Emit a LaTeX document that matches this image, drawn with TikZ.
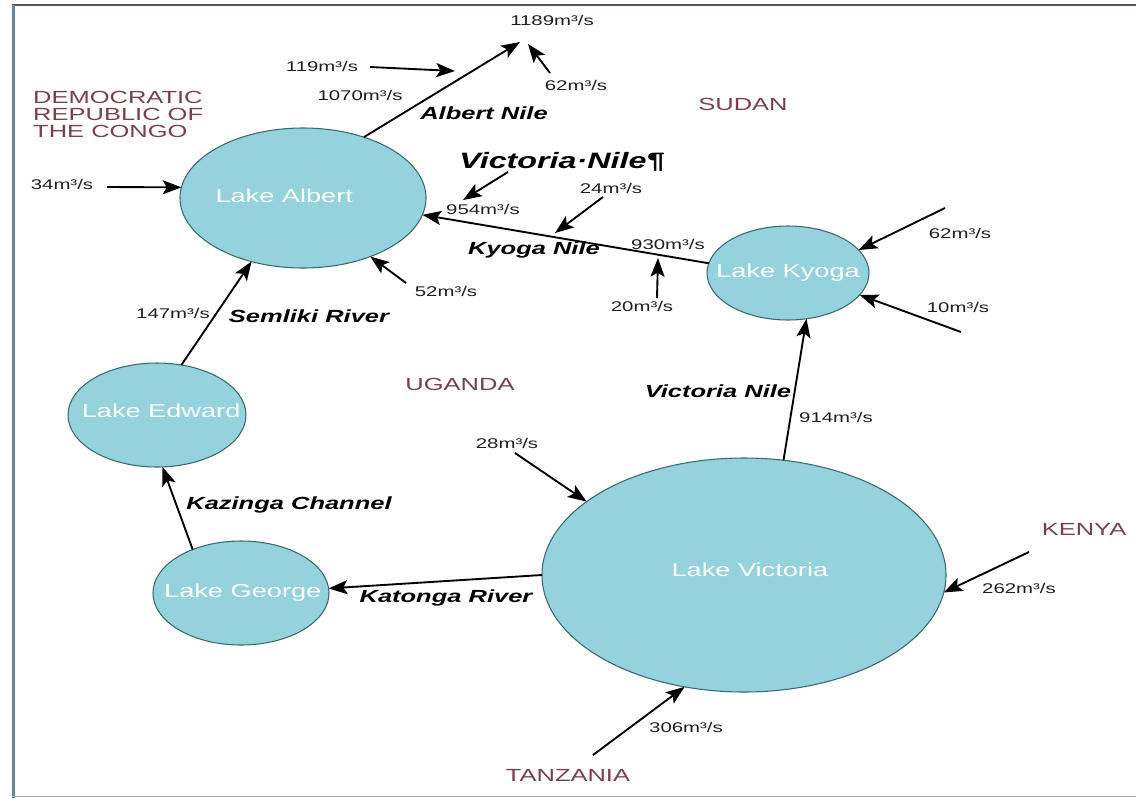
\documentclass[tikz,border=0pt]{standalone}
\usepackage{fontspec}
\setmainfont{Liberation Sans}[FakeStretch=1.45]
\usetikzlibrary{shapes.geometric,arrows.meta}

\definecolor{lakeBlue}{RGB}{148,210,222}
\definecolor{lakeEdge}{RGB}{58,104,110}
\definecolor{countryRed}{RGB}{122,64,74}
\definecolor{frameBlue}{RGB}{104,132,164}
\definecolor{frameDark}{RGB}{80,86,102}

% lake name: horizontal kern, raise, text
\newcommand{\lakename}[3]{\makebox[0pt]{\kern#1\raisebox{#2}{#3}}}

\tikzset{
  lake/.style={ellipse, draw=lakeEdge, line width=0.9pt, fill=lakeBlue, text=white,
    inner sep=0pt, outer sep=0pt, font=\fontsize{16}{18}\selectfont},
  flow/.style={rectangle, draw=none, inner sep=0pt, text=black!88, font=\fontsize{12}{14}\selectfont},
  river/.style={rectangle, draw=none, inner sep=0pt, font=\fontsize{15}{17}\selectfont\bfseries\itshape},
  country/.style={rectangle, draw=none, inner sep=0pt, text=countryRed, font=\fontsize{15}{14.5}\selectfont},
  stream/.style={->, line width=1.6pt}
}

\begin{document}
\begin{tikzpicture}[x=0.03cm, y=-0.03cm, >={Stealth[length=16pt,width=12pt,inset=3.5pt]}]
\useasboundingbox (0,0) rectangle (1136,798);
% \draw[help lines, step=50] (0,0) grid (1136,798);
%%%%%%%%%%%%%%%%%%%%%%%%%%%%%%% frame
\draw[frameDark, line width=1.7pt] (12,5) -- (1136,5);
\draw[frameBlue, line width=2.5pt] (13.5,5) -- (13.5,798);
\draw[frameBlue!70, line width=1.5pt] (12,796.5) -- (1136,796.5);

%%%%%%%%%%%%%%%%%%%%%%%%%%%%%%% lakes
\node[lake, minimum width=7.38cm, minimum height=4.2cm](lAlbert) at (303,198){\lakename{-32pt}{4pt}{Lake Albert}};
\node[lake, minimum width=4.86cm, minimum height=2.82cm](lKyoga) at (788,273){\lakename{0pt}{0pt}{Lake Kyoga}};
\node[lake, minimum width=5.34cm, minimum height=3.12cm](lEdward) at (157,415){\lakename{7pt}{7pt}{Lake Edward}};
\node[lake, minimum width=5.28cm, minimum height=3.12cm](lGeorge) at (241,593){\lakename{3pt}{2.5pt}{Lake George}};
\node[lake, minimum width=12.12cm, minimum height=7.02cm](lVictoria) at (744,575){\lakename{10pt}{9pt}{Lake Victoria}};

%%%%%%%%%%%%%%%%%%%%%%%%%%%%%%% countries
\node[country, align=left, anchor=west](cCongo) at (33,114){DEMOCRATIC\\REPUBLIC OF\\THE CONGO};
\node[country](cSudan) at (743,104){SUDAN};
\node[country](cUganda) at (460,384){UGANDA};
\node[country](cKenya) at (1084,529){KENYA};
\node[country](cTanzania) at (568,775){TANZANIA};

%%%%%%%%%%%%%%%%%%%%%%%%%%%%%%% Albert Nile
\coordinate (nileOut) at (520,42);
\draw[stream] (lAlbert.45) -- (nileOut);
\node[flow](fOut) at (552,20){1189m³/s};
\node[flow](fAlbert) at (360,95){1070m³/s};
\node[river](rAlbertNile) at (484,113){Albert Nile};

\coordinate (in119) at (370,67);
\coordinate (to119) at (455,71);
\draw[stream] (in119) -- (to119);
\node[flow](f119) at (322,66){119m³/s};

\coordinate (in62a) at (550,73);
\coordinate (to62a) at (528,44);
\draw[stream] (in62a) -- (to62a);
\node[flow](f62a) at (576,85){62m³/s};

%%%%%%%%%%%%%%%%%%%%%%%%%%%%%%% Lake Albert inflows
\coordinate (in34) at (107,187);
\draw[stream] (in34) -- (lAlbert.175);
\node[flow](f34) at (62,184){34m³/s};

\coordinate (in52) at (406,283);
\draw[stream] (in52) -- (lAlbert.-41);
\node[flow](f52) at (446,291){52m³/s};

\coordinate (in954) at (508,172);
\coordinate (to954) at (463,200);
\draw[stream] (in954) -- (to954);
\node[river, font=\fontsize{19}{21}\selectfont\bfseries\itshape](rVicNileTop) at (562,162){Victoria·Nile¶};
\node[flow](f954) at (483,209){954m³/s};

%%%%%%%%%%%%%%%%%%%%%%%%%%%%%%% Kyoga Nile
\draw[stream] (lKyoga.173) -- (lAlbert.-8);
\node[river](rKyogaNile) at (534,250){Kyoga Nile};
\node[flow](f930) at (668,244){930m³/s};

\coordinate (in24) at (603,197);
\coordinate (to24) at (555,233);
\draw[stream] (in24) -- (to24);
\node[flow](f24) at (611,188){24m³/s};

\coordinate (in20) at (657,298);
\coordinate (to20) at (658,258);
\draw[stream] (in20) -- (to20);
\node[flow](f20) at (642,306){20m³/s};

%%%%%%%%%%%%%%%%%%%%%%%%%%%%%%% Lake Kyoga inflows
\coordinate (in62b) at (945,208);
\draw[stream] (in62b) -- (lKyoga.18);
\node[flow](f62b) at (960,233){62m³/s};

\coordinate (in10) at (961,332);
\draw[stream] (in10) -- (lKyoga.-17);
\node[flow](f10) at (958,307){10m³/s};

%%%%%%%%%%%%%%%%%%%%%%%%%%%%%%% Semliki River
\draw[stream] (lEdward.64) -- (lAlbert.231);
\node[flow](f147) at (173,313){147m³/s};
\node[river](rSemliki) at (309,316){Semliki River};

%%%%%%%%%%%%%%%%%%%%%%%%%%%%%%% Victoria Nile
\draw[stream] (lVictoria.71) -- (lKyoga.-68);
\node[river](rVicNile) at (718,391){Victoria Nile};
\node[flow](f914) at (836,417){914m³/s};

%%%%%%%%%%%%%%%%%%%%%%%%%%%%%%% Kazinga Channel, Katonga River
\draw[stream] (lGeorge.138) -- (lEdward.-84);
\node[river](rKazinga) at (289,505){Kazinga Channel};

\draw[stream] (lVictoria.180) -- (lGeorge.3);
\node[river](rKatonga) at (446,598){Katonga River};

%%%%%%%%%%%%%%%%%%%%%%%%%%%%%%% Lake Victoria inflows
\coordinate (in28) at (515,453);
\draw[stream] (in28) -- (lVictoria.155);
\node[flow](f28) at (507,443){28m³/s};

\coordinate (in262) at (1029,552);
\draw[stream] (in262) -- (lVictoria.-5);
\node[flow](f262) at (1019,588){262m³/s};

\coordinate (in306) at (593,755);
\draw[stream] (in306) -- (lVictoria.-118);
\node[flow](f306) at (686,727){306m³/s};

\end{tikzpicture}
\end{document}
